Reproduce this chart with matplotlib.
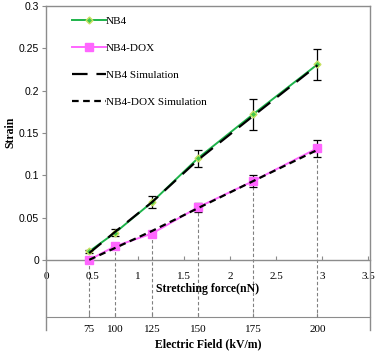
import numpy as np
import matplotlib.pyplot as plt

# data
force = [0.47, 0.75, 1.15, 1.65, 2.25, 2.95]
field = [75, 100, 125, 150, 175, 200]
nb4 = [0.010, 0.032, 0.068, 0.120, 0.172, 0.231]
nb4_err = [0.002, 0.004, 0.007, 0.010, 0.018, 0.018]
dox = [0.000, 0.016, 0.031, 0.062, 0.093, 0.132]
dox_err = [0.001, 0.002, 0.003, 0.005, 0.007, 0.010]
nb4_sim = [0.008, 0.033, 0.068, 0.118, 0.170, 0.230]
dox_sim = [0.000, 0.014, 0.034, 0.061, 0.093, 0.130]

serif = 'Liberation Serif'
sans = 'Liberation Sans'
frame = '#8c8c8c'

fig = plt.figure(figsize=(3.78, 3.53), dpi=100)
ax = fig.add_axes([0.1217, 0.065, 0.857, 0.918])
ax.spines['bottom'].set_position(('data', 0))

# guide lines from each point down to the field axis
for x, y in zip(force, dox):
    ax.plot([x, x], [y, -0.067], color='#808080', lw=0.8, ls=(0, (3, 2)), zorder=1)

h1, = ax.plot(force, nb4, color='#1db34a', lw=1.4, marker='D', ms=3.5,
              mfc='#3ec84a', mec='#c8e060', label='NB4', zorder=3)
h2, = ax.plot(force, dox, color='#ff66ff', lw=1.4, marker='s', ms=6,
              label='NB4-DOX', zorder=3)
ax.errorbar(force, nb4, yerr=nb4_err, fmt='none', ecolor='black', elinewidth=0.9,
            capsize=3, capthick=0.9, zorder=2)
ax.errorbar(force, dox, yerr=dox_err, fmt='none', ecolor='black', elinewidth=0.9,
            capsize=3, capthick=0.9, zorder=2)
h3, = ax.plot(force, nb4_sim, color='black', lw=1.6, ls=(0, (7, 4)), label='NB4 Simulation', zorder=4)
h4, = ax.plot(force, dox_sim, color='black', lw=1.6, ls=(0, (3, 2)), label='NB4-DOX Simulation', zorder=4)

ax.set_xlim(0, 3.52)
ax.set_ylim(-0.083, 0.3)
ax.set_yticks([0, 0.05, 0.1, 0.15, 0.2, 0.25, 0.3])
ax.set_yticklabels(['0', '0.05', '0.1', '0.15', '0.2', '0.25', '0.3'], fontfamily=sans, fontsize=7.5)
ax.set_xticks([0, 0.5, 1, 1.5, 2, 2.5, 3, 3.5])
ax.set_xticklabels(['0', '0.5', '1', '1.5', '2', '2.5', '3', '3.5'], fontfamily=serif, fontsize=8)
ax.tick_params(axis='y', direction='out', length=3, color=frame, pad=2)
ax.tick_params(axis='x', direction='in', length=3, color=frame, pad=9)

for s in ['left', 'right', 'top', 'bottom']:
    ax.spines[s].set_color(frame)
    ax.spines[s].set_linewidth(1)

ax.set_ylabel('Strain', fontfamily=serif, fontweight='bold', fontsize=8.5)
ax.yaxis.set_label_coords(-0.09, 0.61)
ax.set_xlabel('Stretching force(nN)', fontfamily=serif, fontweight='bold', fontsize=8.5, labelpad=1)

sec = ax.secondary_xaxis(0.04)
sec.set_xticks(force)
sec.set_xticklabels([str(f) for f in field], fontfamily=serif, fontsize=8)
sec.tick_params(direction='in', length=3, color=frame, pad=6)
sec.spines['bottom'].set_color(frame)
sec.set_xlabel('Electric Field (kV/m)', fontfamily=serif, fontweight='bold', fontsize=8.5, labelpad=3)

ax.legend(handles=[h1, h2, h3, h4], loc='upper left', bbox_to_anchor=(0.05, 1.0), frameon=False,
          prop={'family': serif, 'size': 8}, handlelength=3.0, handletextpad=0.0,
          labelspacing=1.55)

fig.savefig('out.png', dpi=100)
